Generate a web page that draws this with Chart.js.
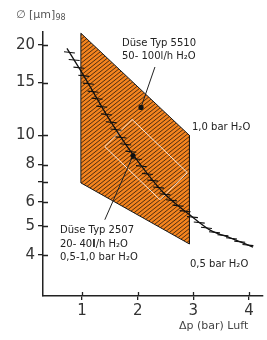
<!DOCTYPE html>
<html>
<head>
<meta charset="utf-8">
<script src="https://cdn.jsdelivr.net/npm/chart.js@4.4.1/dist/chart.umd.min.js"></script>
<style>
  html, body { margin: 0; padding: 0; background: #fff; }
  #wrap { width: 267px; height: 340px; }
</style>
</head>
<body>
<div id="wrap"><canvas id="chart" width="267" height="340"></canvas></div>
<script>
// area of the two nozzles (pressure bar, droplet size µm)
const areaP = [0.98, 2.93, 2.93, 0.98, 0.98];
const areaD = [21.9, 10.0, 4.35, 6.95, 21.9];

// white frame inside the area
const frameP = [1.90, 2.89, 2.40, 1.41, 1.90];
const frameD = [11.3, 7.52, 6.11, 9.18, 11.3];

// characteristic curve
const curveP = [0.73, 0.98, 1.50, 1.92, 2.45, 2.94, 3.30, 3.66, 4.07];
const curveD = [19.5, 16.4, 11.25, 8.61, 6.48, 5.43, 4.84, 4.56, 4.25];

// operating points and their leader lines
const dotP = [2.06, 1.916];
const dotD = [12.4, 8.57];
const lead1P = [2.31, 2.06];
const lead1D = [16.9, 12.4];
const lead2P = [1.41, 1.916];
const lead2D = [5.24, 8.57];

const xTicks = [1, 2, 3, 4];
const yTicks = [4, 5, 6, 7, 8, 10, 15, 20];
const yLabels = [4, 5, 6, 8, 10, 15, 20];

const pts = (xs, ys) => xs.map((x, i) => ({ x: x, y: ys[i] }));

function hatch() {
  const c = document.createElement("canvas");
  c.width = 5;
  c.height = 4;
  const g = c.getContext("2d");
  g.fillStyle = "#f5841e";
  g.fillRect(0, 0, 5, 4);
  g.strokeStyle = "#2e1e10";
  g.lineWidth = 0.85;
  for (let k = -1; k <= 1; k++) {
    g.beginPath();
    g.moveTo(-5, 8 + 4 * k);
    g.lineTo(10, -4 + 4 * k);
    g.stroke();
  }
  return g.createPattern(c, "repeat");
}

const font = "DejaVu Sans";

// text pieces: [x, y, color, [[text, size, bold, dy]...]]
const notes = [
  [122, 46, "#222", [["Düse Typ 5510", 10]]],
  [122, 59, "#222", [["50- 100l/h H₂O", 10]]],
  [192, 130, "#222", [["1,0 bar H₂O", 10]]],
  [60, 233, "#222", [["Düse Typ 2507", 10]]],
  [60, 247, "#222", [["20- 40", 10], ["l", 10, true], ["/h H₂O", 10]]],
  [60, 260, "#222", [["0,5-1,0 bar H₂O", 10]]],
  [190, 267, "#222", [["0,5 bar H₂O", 10]]],
  [16, 18, "#555", [["∅ [µm]", 11], ["98", 8, false, 2]]],
  [179, 329, "#444", [["Δp (bar) Luft", 11]]],
];

const extras = {
  id: "extras",
  afterDatasetsDraw(chart) {
    const ctx = chart.ctx;
    const xs = chart.scales.x, ys = chart.scales.y;
    const a = chart.chartArea;
    ctx.save();
    // inner halves of axis ticks
    ctx.strokeStyle = "#222";
    ctx.lineWidth = 1.3;
    ctx.beginPath();
    yTicks.forEach(v => {
      const y = Math.round(ys.getPixelForValue(v)) + 0.5;
      ctx.moveTo(a.left, y);
      ctx.lineTo(a.left + 5, y);
    });
    xTicks.forEach(v => {
      const x = Math.round(xs.getPixelForValue(v)) + 0.5;
      ctx.moveTo(x, a.bottom);
      ctx.lineTo(x, a.bottom - 4);
    });
    ctx.stroke();

    // hatch marks along the curve
    const meta = chart.getDatasetMeta(2);
    const p = meta.data;
    const step = 9, len = 11, ang = 6 * Math.PI / 180;
    const dx = Math.cos(ang) * len / 2, dy = Math.sin(ang) * len / 2;
    let acc = step / 2, px = p[0].x, py = p[0].y;
    ctx.lineWidth = 1.1;
    ctx.strokeStyle = "#111";
    ctx.beginPath();
    for (let i = 0; i < p.length - 1; i++) {
      const a0 = p[i], a1 = p[i + 1];
      for (let t = 0.02; t <= 1.0001; t += 0.02) {
        const u = 1 - t;
        const bx = u * u * u * a0.x + 3 * u * u * t * a0.cp2x + 3 * u * t * t * a1.cp1x + t * t * t * a1.x;
        const by = u * u * u * a0.y + 3 * u * u * t * a0.cp2y + 3 * u * t * t * a1.cp1y + t * t * t * a1.y;
        acc -= Math.hypot(bx - px, by - py);
        px = bx; py = by;
        if (acc <= 0) {
          ctx.moveTo(bx - dx, by - dy);
          ctx.lineTo(bx + dx, by + dy);
          acc += step;
        }
      }
    }
    ctx.stroke();

    // labels
    ctx.textBaseline = "alphabetic";
    notes.forEach(([x, y, color, parts]) => {
      let cx = x;
      ctx.fillStyle = color;
      parts.forEach(([txt, size, bold, off]) => {
        ctx.font = (bold ? "bold " : "") + size + "px '" + font + "'";
        ctx.fillText(txt, cx, y + (off || 0));
        cx += ctx.measureText(txt).width;
      });
    });
    ctx.restore();
  },
};

const line = (data, color, width, order, extra) => Object.assign({
  data: data,
  showLine: true,
  borderColor: color,
  borderWidth: width,
  pointRadius: 0,
  fill: false,
  order: order,
}, extra || {});

new Chart(document.getElementById("chart"), {
  type: "scatter",
  data: {
    datasets: [
      line(pts(areaP, areaD), "#1a1a1a", 1, 5, { fill: "shape", backgroundColor: hatch() }),
      line(pts(frameP, frameD), "#ffffff", 0.8, 4),
      line(pts(curveP, curveD), "#111111", 1.3, 3, { tension: 0.4, cubicInterpolationMode: "monotone" }),
      line(pts(lead1P, lead1D), "#222222", 1, 2),
      line(pts(lead2P, lead2D), "#222222", 1, 2),
      { data: pts(dotP, dotD), pointRadius: 2.6, backgroundColor: "#111", borderWidth: 0, order: 1 },
    ],
  },
  options: {
    responsive: false,
    animation: false,
    layout: { padding: { left: 0, right: 4, top: 32, bottom: 0 } },
    plugins: { legend: { display: false }, tooltip: { enabled: false } },
    scales: {
      x: {
        type: "linear",
        min: 0.3,
        max: 4.25,
        afterBuildTicks: s => { s.ticks = xTicks.map(v => ({ value: v })); },
        afterFit: s => { s.height = 44; },
        grid: { drawOnChartArea: false, tickLength: 4, color: "#222", lineWidth: 1.3 },
        border: { color: "#222", width: 1.5 },
        ticks: { color: "#333", padding: 2, maxRotation: 0, font: { family: font, size: 15 } },
      },
      y: {
        type: "logarithmic",
        min: 2.92,
        max: 22.1,
        afterBuildTicks: s => { s.ticks = yTicks.map(v => ({ value: v })); },
        afterFit: s => { s.width = 43; },
        grid: { drawOnChartArea: false, tickLength: 5, color: "#222", lineWidth: 1.3 },
        border: { color: "#222", width: 1.5 },
        ticks: {
          color: "#333",
          padding: 3,
          font: { family: font, size: 15 },
          callback: v => (yLabels.includes(v) ? String(v) : ""),
        },
      },
    },
  },
  plugins: [extras],
});
</script>
</body>
</html>
